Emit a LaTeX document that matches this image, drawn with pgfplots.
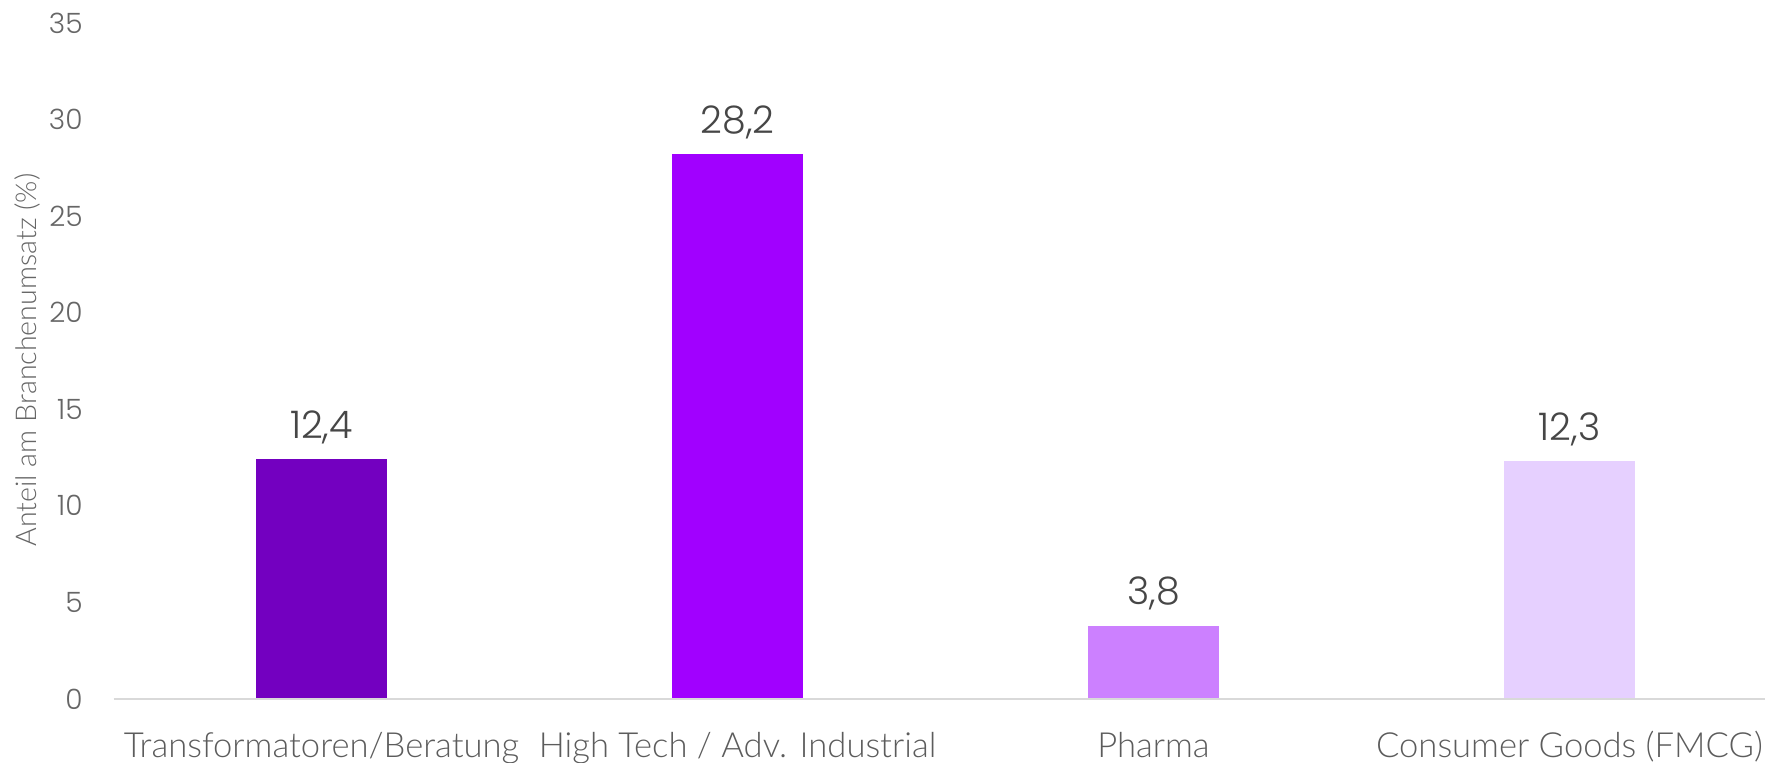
\documentclass[border=0pt]{standalone}
\usepackage{pgfplots}
\pgfplotsset{compat=1.18}
\usepackage{fontspec}
\setmainfont{Lato}[UprightFont=* Light]
\newfontfamily\numfont{Poppins}[UprightFont=* Light]
\definecolor{c1}{RGB}{115,0,192}
\definecolor{c2}{RGB}{161,0,255}
\definecolor{c3}{RGB}{204,128,255}
\definecolor{c4}{RGB}{230,208,255}
\definecolor{tickgray}{RGB}{102,102,102}
\definecolor{valgray}{RGB}{70,70,70}
\definecolor{axgray}{RGB}{217,217,217}
\begin{document}
\begin{tikzpicture}
\begin{axis}[
  at={(0pt,0pt)}, anchor=south west,
  scale only axis,
  width=825.75pt, height=338pt,
  xmin=-0.5, xmax=3.47,
  ymin=0, ymax=35,
  ytick={0,5,...,35},
  xtick={0,1,2,3},
  xticklabels={Transformatoren/Beratung, High Tech / Adv. Industrial, Pharma, Consumer Goods (FMCG)},
  axis line style={draw=none},
  tick style={draw=none},
  major tick length=0pt,
  /pgf/number format/assume math mode=true,
  yticklabel style={font=\numfont\fontsize{14}{16}\selectfont, text=tickgray, anchor=east, inner sep=0pt, xshift=-15.25pt},
  xticklabel style={font=\fontsize{17.3}{20}\selectfont, text=tickgray!90!black, anchor=base, inner sep=0pt, yshift=-29.5pt},
  every axis y label/.style={at={(axis description cs:-0.052,0.5015)}, rotate=90, anchor=center, font=\fontsize{14.3}{16}\selectfont, text=tickgray},
  ylabel={Anteil am Branchenumsatz (\%)},
  ybar, bar width=65.3pt, bar shift=0pt,
  nodes near coords={\pgfmathprintnumber[fixed,fixed zerofill,precision=1,use comma,assume math mode=true]{\pgfplotspointmeta}},
  every node near coord/.style={anchor=base, inner sep=0pt, yshift=10.5pt, font=\numfont\fontsize{19}{22}\selectfont, text=valgray},
  clip=false,
]
\addplot[fill=c1, draw=none] coordinates {(0,12.4)};
\addplot[fill=c2, draw=none] coordinates {(1,28.2)};
\addplot[fill=c3, draw=none] coordinates {(2,3.8)};
\addplot[fill=c4, draw=none] coordinates {(3,12.3)};
\draw[axgray, line width=1pt] (axis cs:-0.5,0) -- (axis cs:3.47,0);
\end{axis}
\pgfresetboundingbox
\useasboundingbox (-56.75pt,-32pt) rectangle (825.75pt,349.5pt);
\end{tikzpicture}
\end{document}
